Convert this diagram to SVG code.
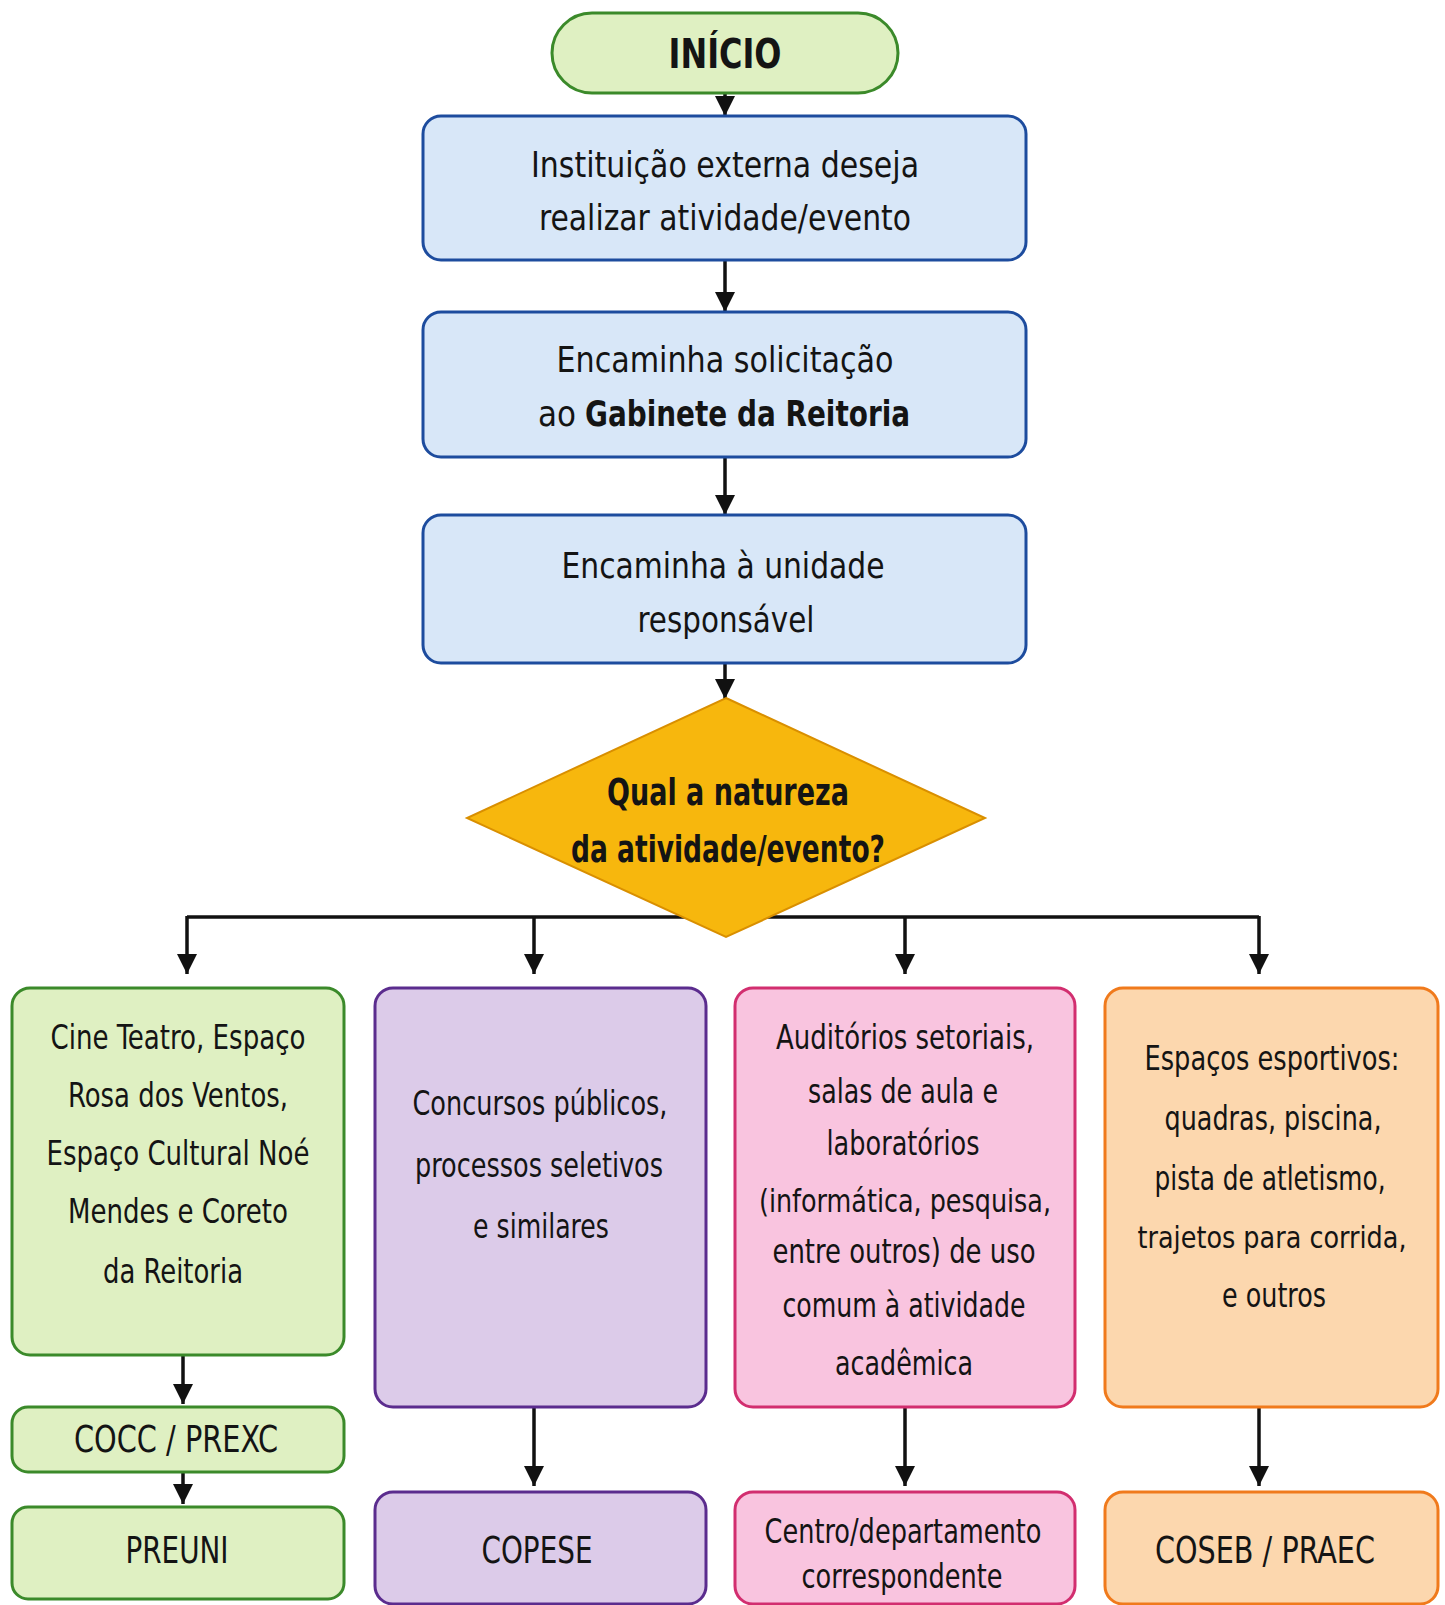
<svg xmlns="http://www.w3.org/2000/svg" width="1445" height="1605" viewBox="0 0 1445 1605">
<defs>
<style>
.t{font-family:"Liberation Sans Narrow","DejaVu Sans Condensed",Roboto,sans-serif;fill:#141414;text-anchor:middle}
.st{text-anchor:start}
.b{font-weight:bold}
.s34{font-size:34px}
.s35{font-size:36px}
.s38{font-size:38px}
.blue{fill:#d8e7f8;stroke:#1d4c9e;stroke-width:3}
.green{fill:#dff0c2;stroke:#3b8a2a;stroke-width:3}
.purple{fill:#dccbe9;stroke:#5b2c8e;stroke-width:3}
.pink{fill:#f9c4df;stroke:#d22e6f;stroke-width:3}
.orange{fill:#fcd7ae;stroke:#f07a1c;stroke-width:3}
.dia{fill:#f7b70d;stroke:#d98f00;stroke-width:2}
.c{fill:none;stroke:#111;stroke-width:3.5}
</style>
<marker id="ah" markerUnits="userSpaceOnUse" markerWidth="20" markerHeight="20" viewBox="0 0 20 20" refX="20" refY="10" orient="auto">
<path d="M0,0 L20,10 L0,20 z" fill="#111"/>
</marker>
</defs>
<rect width="1445" height="1605" fill="#ffffff"/>

<g id="connectors">
<path class="c" d="M725,93 V116" marker-end="url(#ah)"/>
<path class="c" d="M725,260 V312" marker-end="url(#ah)"/>
<path class="c" d="M725,457 V515" marker-end="url(#ah)"/>
<path class="c" d="M725,663 V699" marker-end="url(#ah)"/>
<path class="c" d="M187,917 H1259"/>
<path class="c" d="M187,916 V974" marker-end="url(#ah)"/>
<path class="c" d="M534,916 V974" marker-end="url(#ah)"/>
<path class="c" d="M905,916 V974" marker-end="url(#ah)"/>
<path class="c" d="M1259,916 V974" marker-end="url(#ah)"/>
<path class="c" d="M183,1355 V1404" marker-end="url(#ah)"/>
<path class="c" d="M183,1472 V1504" marker-end="url(#ah)"/>
<path class="c" d="M534,1407 V1486" marker-end="url(#ah)"/>
<path class="c" d="M905,1407 V1486" marker-end="url(#ah)"/>
<path class="c" d="M1259,1407 V1486" marker-end="url(#ah)"/>
</g>

<g id="inicio">
<rect class="green" x="552" y="13" width="346" height="80" rx="40"/>
<text class="t b" x="725" y="68" font-size="40" textLength="113" lengthAdjust="spacingAndGlyphs">INÍCIO</text>
</g>

<g id="instituicao">
<rect class="blue" x="423" y="116" width="603" height="144" rx="18"/>
<text class="t s35" x="725" y="177" textLength="388" lengthAdjust="spacingAndGlyphs">Instituição externa deseja</text>
<text class="t s35" x="725" y="230" textLength="372" lengthAdjust="spacingAndGlyphs">realizar atividade/evento</text>
</g>

<g id="gabinete">
<rect class="blue" x="423" y="312" width="603" height="145" rx="18"/>
<text class="t s35" x="725" y="372" textLength="337" lengthAdjust="spacingAndGlyphs">Encaminha solicitação</text>
<text class="t st s35" x="538" y="426" textLength="38" lengthAdjust="spacingAndGlyphs">ao</text>
<text class="t st b s35" x="585" y="426" textLength="325" lengthAdjust="spacingAndGlyphs">Gabinete da Reitoria</text>
</g>

<g id="unidade">
<rect class="blue" x="423" y="515" width="603" height="148" rx="18"/>
<text class="t s35" x="723" y="578" textLength="323" lengthAdjust="spacingAndGlyphs">Encaminha à unidade</text>
<text class="t s35" x="726" y="632" textLength="177" lengthAdjust="spacingAndGlyphs">responsável</text>
</g>

<g id="decisao">
<polygon class="dia" points="726,698 985,818 726,937 467,818"/>
<text class="t b s38" x="728" y="805" textLength="242" lengthAdjust="spacingAndGlyphs">Qual a natureza</text>
<text class="t b s38" x="728" y="862" textLength="314" lengthAdjust="spacingAndGlyphs">da atividade/evento?</text>
</g>

<g id="espacos-culturais">
<rect class="green" x="12" y="988" width="332" height="367" rx="18"/>
<text class="t s34" x="178" y="1049" textLength="255" lengthAdjust="spacingAndGlyphs">Cine Teatro, Espaço</text>
<text class="t s34" x="178" y="1107" textLength="220" lengthAdjust="spacingAndGlyphs">Rosa dos Ventos,</text>
<text class="t s34" x="178" y="1165" textLength="263" lengthAdjust="spacingAndGlyphs">Espaço Cultural Noé</text>
<text class="t s34" x="178" y="1223" textLength="220" lengthAdjust="spacingAndGlyphs">Mendes e Coreto</text>
<text class="t s34" x="173" y="1283" textLength="140" lengthAdjust="spacingAndGlyphs">da Reitoria</text>
</g>

<g id="concursos">
<rect class="purple" x="375" y="988" width="331" height="419" rx="18"/>
<text class="t s34" x="540" y="1115" textLength="255" lengthAdjust="spacingAndGlyphs">Concursos públicos,</text>
<text class="t s34" x="539" y="1177" textLength="248" lengthAdjust="spacingAndGlyphs">processos seletivos</text>
<text class="t s34" x="541" y="1238" textLength="136" lengthAdjust="spacingAndGlyphs">e similares</text>
</g>

<g id="auditorios">
<rect class="pink" x="735" y="988" width="340" height="419" rx="18"/>
<text class="t s34" x="905" y="1049" textLength="258" lengthAdjust="spacingAndGlyphs">Auditórios setoriais,</text>
<text class="t s34" x="903" y="1103" textLength="190" lengthAdjust="spacingAndGlyphs">salas de aula e</text>
<text class="t s34" x="903" y="1155" textLength="153" lengthAdjust="spacingAndGlyphs">laboratórios</text>
<text class="t" font-size="32" x="905" y="1212" textLength="292" lengthAdjust="spacingAndGlyphs">(informática, pesquisa,</text>
<text class="t s34" x="904" y="1263" textLength="263" lengthAdjust="spacingAndGlyphs">entre outros) de uso</text>
<text class="t s34" x="904" y="1317" textLength="243" lengthAdjust="spacingAndGlyphs">comum à atividade</text>
<text class="t s34" x="904" y="1375" textLength="138" lengthAdjust="spacingAndGlyphs">acadêmica</text>
</g>

<g id="esportivos">
<rect class="orange" x="1105" y="988" width="333" height="419" rx="18"/>
<text class="t s34" x="1272" y="1070" textLength="255" lengthAdjust="spacingAndGlyphs">Espaços esportivos:</text>
<text class="t s34" x="1273" y="1130" textLength="217" lengthAdjust="spacingAndGlyphs">quadras, piscina,</text>
<text class="t s34" x="1270" y="1190" textLength="231" lengthAdjust="spacingAndGlyphs">pista de atletismo,</text>
<text class="t" font-size="31" x="1272" y="1248" textLength="269" lengthAdjust="spacingAndGlyphs">trajetos para corrida,</text>
<text class="t s34" x="1274" y="1307" textLength="104" lengthAdjust="spacingAndGlyphs">e outros</text>
</g>

<g id="cocc-prexc">
<rect class="green" x="12" y="1407" width="332" height="65" rx="16"/>
<text class="t s38" x="176" y="1452" textLength="204" lengthAdjust="spacingAndGlyphs">COCC / PREXC</text>
</g>

<g id="preuni">
<rect class="green" x="12" y="1507" width="332" height="92" rx="16"/>
<text class="t s38" x="177" y="1563" textLength="103" lengthAdjust="spacingAndGlyphs">PREUNI</text>
</g>

<g id="copese">
<rect class="purple" x="375" y="1492" width="331" height="112" rx="18"/>
<text class="t s38" x="537" y="1563" textLength="111" lengthAdjust="spacingAndGlyphs">COPESE</text>
</g>

<g id="centro">
<rect class="pink" x="735" y="1492" width="340" height="112" rx="18"/>
<text class="t s34" x="903" y="1543" textLength="277" lengthAdjust="spacingAndGlyphs">Centro/departamento</text>
<text class="t s34" x="902" y="1588" textLength="201" lengthAdjust="spacingAndGlyphs">correspondente</text>
</g>

<g id="coseb-praec">
<rect class="orange" x="1105" y="1492" width="333" height="112" rx="18"/>
<text class="t s38" x="1265" y="1563" textLength="220" lengthAdjust="spacingAndGlyphs">COSEB / PRAEC</text>
</g>
</svg>
